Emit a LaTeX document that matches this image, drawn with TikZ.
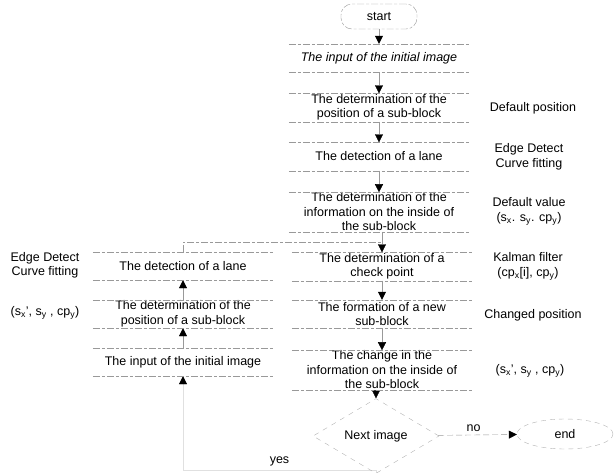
\documentclass[tikz,border=0pt]{standalone}
\usepackage{fontspec}
\setmainfont{Liberation Sans}
\usetikzlibrary{arrows.meta}
\usetikzlibrary{shapes.geometric}
\pgfdeclarelayer{edgelayer}
\pgfdeclarelayer{nodelayer}
\pgfsetlayers{edgelayer,nodelayer,main}
\tikzstyle{every node}=[font=\fontsize{12.5pt}{14.5pt}\selectfont]
\tikzstyle{scanline}=[draw=black!40,dash pattern=on 7pt off 2pt on 3pt off 2pt]
\tikzstyle{stepbox}=[minimum width=180pt,minimum height=28pt,inner xsep=0pt,inner ysep=0.5pt,align=center,append after command={(\tikzlastnode.north west) edge[scanline] (\tikzlastnode.north east) (\tikzlastnode.south west) edge[scanline] (\tikzlastnode.south east)}]
\tikzstyle{terminal}=[style=scanline,rounded corners=11pt,minimum width=76pt,minimum height=25pt]
\tikzstyle{decision}=[diamond,draw=black!30,dash pattern=on 5pt off 5pt,minimum width=126pt,minimum height=60pt,inner sep=0pt]
\tikzstyle{stop}=[ellipse,draw=black!30,dash pattern=on 5pt off 4pt,minimum width=96pt,minimum height=30pt]
\tikzstyle{note}=[align=center]
\tikzstyle{transition}=[-{Triangle[length=8pt,width=8pt,color=black]},draw=black!40]
\tikzstyle{returnline}=[draw=black!40,dash pattern=on 7pt off 2pt on 3pt off 2pt]

\begin{document}
\begin{tikzpicture}[x=1pt,y=-1pt]
	\useasboundingbox (0,0) rectangle (614,472);
	\begin{pgfonlayer}{nodelayer}
		\node [style=terminal] (0) at (379, 16.5) {start};
		\node [style=stepbox] (1) at (379, 58) {\itshape The input of the initial image};
		\node [style=stepbox] (2) at (379, 107.5) {The determination of the\\position of a sub-block};
		\node [style=stepbox] (3) at (379, 156.5) {The detection of a lane};
		\node [style=stepbox] (4) at (379, 212) {The determination of the\\information on the inside of\\the sub-block};
		\node [style=stepbox] (5) at (382, 266.5) {The determination of a\\check point};
		\node [style=stepbox] (6) at (382, 314) {The formation of a new\\sub-block};
		\node [style=stepbox] (7) at (382, 370) {The change in the\\information on the inside of\\the sub-block};
		\node [style=decision] (8) at (376, 436) {Next image};
		\node [style=stop] (9) at (565, 434) {end};
		\node [style=stepbox] (10) at (183, 266) {The detection of a lane};
		\node [style=stepbox] (11) at (183, 314) {The determination of the\\position of a sub-block};
		\node [style=stepbox] (12) at (183, 362) {The input of the initial image};
		\coordinate (13) at (183, 470);
		\coordinate (14) at (382, 242);
		\node [style=note] (20) at (533, 108) {Default position};
		\node [style=note] (21) at (529, 157) {Edge Detect\\Curve fitting};
		\node [style=note] (22) at (529, 211.5) {Default value\\(s\textsubscript{x}. s\textsubscript{y}. cp\textsubscript{y})};
		\node [style=note] (23) at (528, 266.5) {Kalman filter\\(cp\textsubscript{x}[i], cp\textsubscript{y})};
		\node [style=note] (24) at (533, 315) {Changed position};
		\node [style=note] (25) at (530, 371) {(s\textsubscript{x}', s\textsubscript{y} , cp\textsubscript{y})};
		\node [style=note] (26) at (45, 265.5) {Edge Detect\\Curve fitting};
		\node [style=note] (27) at (45, 313) {(s\textsubscript{x}', s\textsubscript{y} , cp\textsubscript{y})};
	\end{pgfonlayer}
	\begin{pgfonlayer}{edgelayer}
		\draw [style=transition] (0) to (1);
		\draw [style=transition] (1) to (2);
		\draw [style=transition] (2) to (3);
		\draw [style=transition] (3) to (4);
		\draw [style=transition] (4.south -| 5) to (5);
		\draw [style=transition] (5) to (6);
		\draw [style=transition] (6) to (7);
		\draw [style=transition] (7.south -| 8) to (8);
		\draw [style=transition, dash pattern=on 6pt off 3pt] (8) to node[above, pos=0.45]{no} (9);
		\draw [style=transition, draw=black!12] (8) |- node[pos=0.75, above]{yes} (13) -- (12);
		\draw [style=transition] (12) to (11);
		\draw [style=transition] (11) to (10);
		\draw [style=returnline] (10) |- (14);
	\end{pgfonlayer}
\end{tikzpicture}
\end{document}
